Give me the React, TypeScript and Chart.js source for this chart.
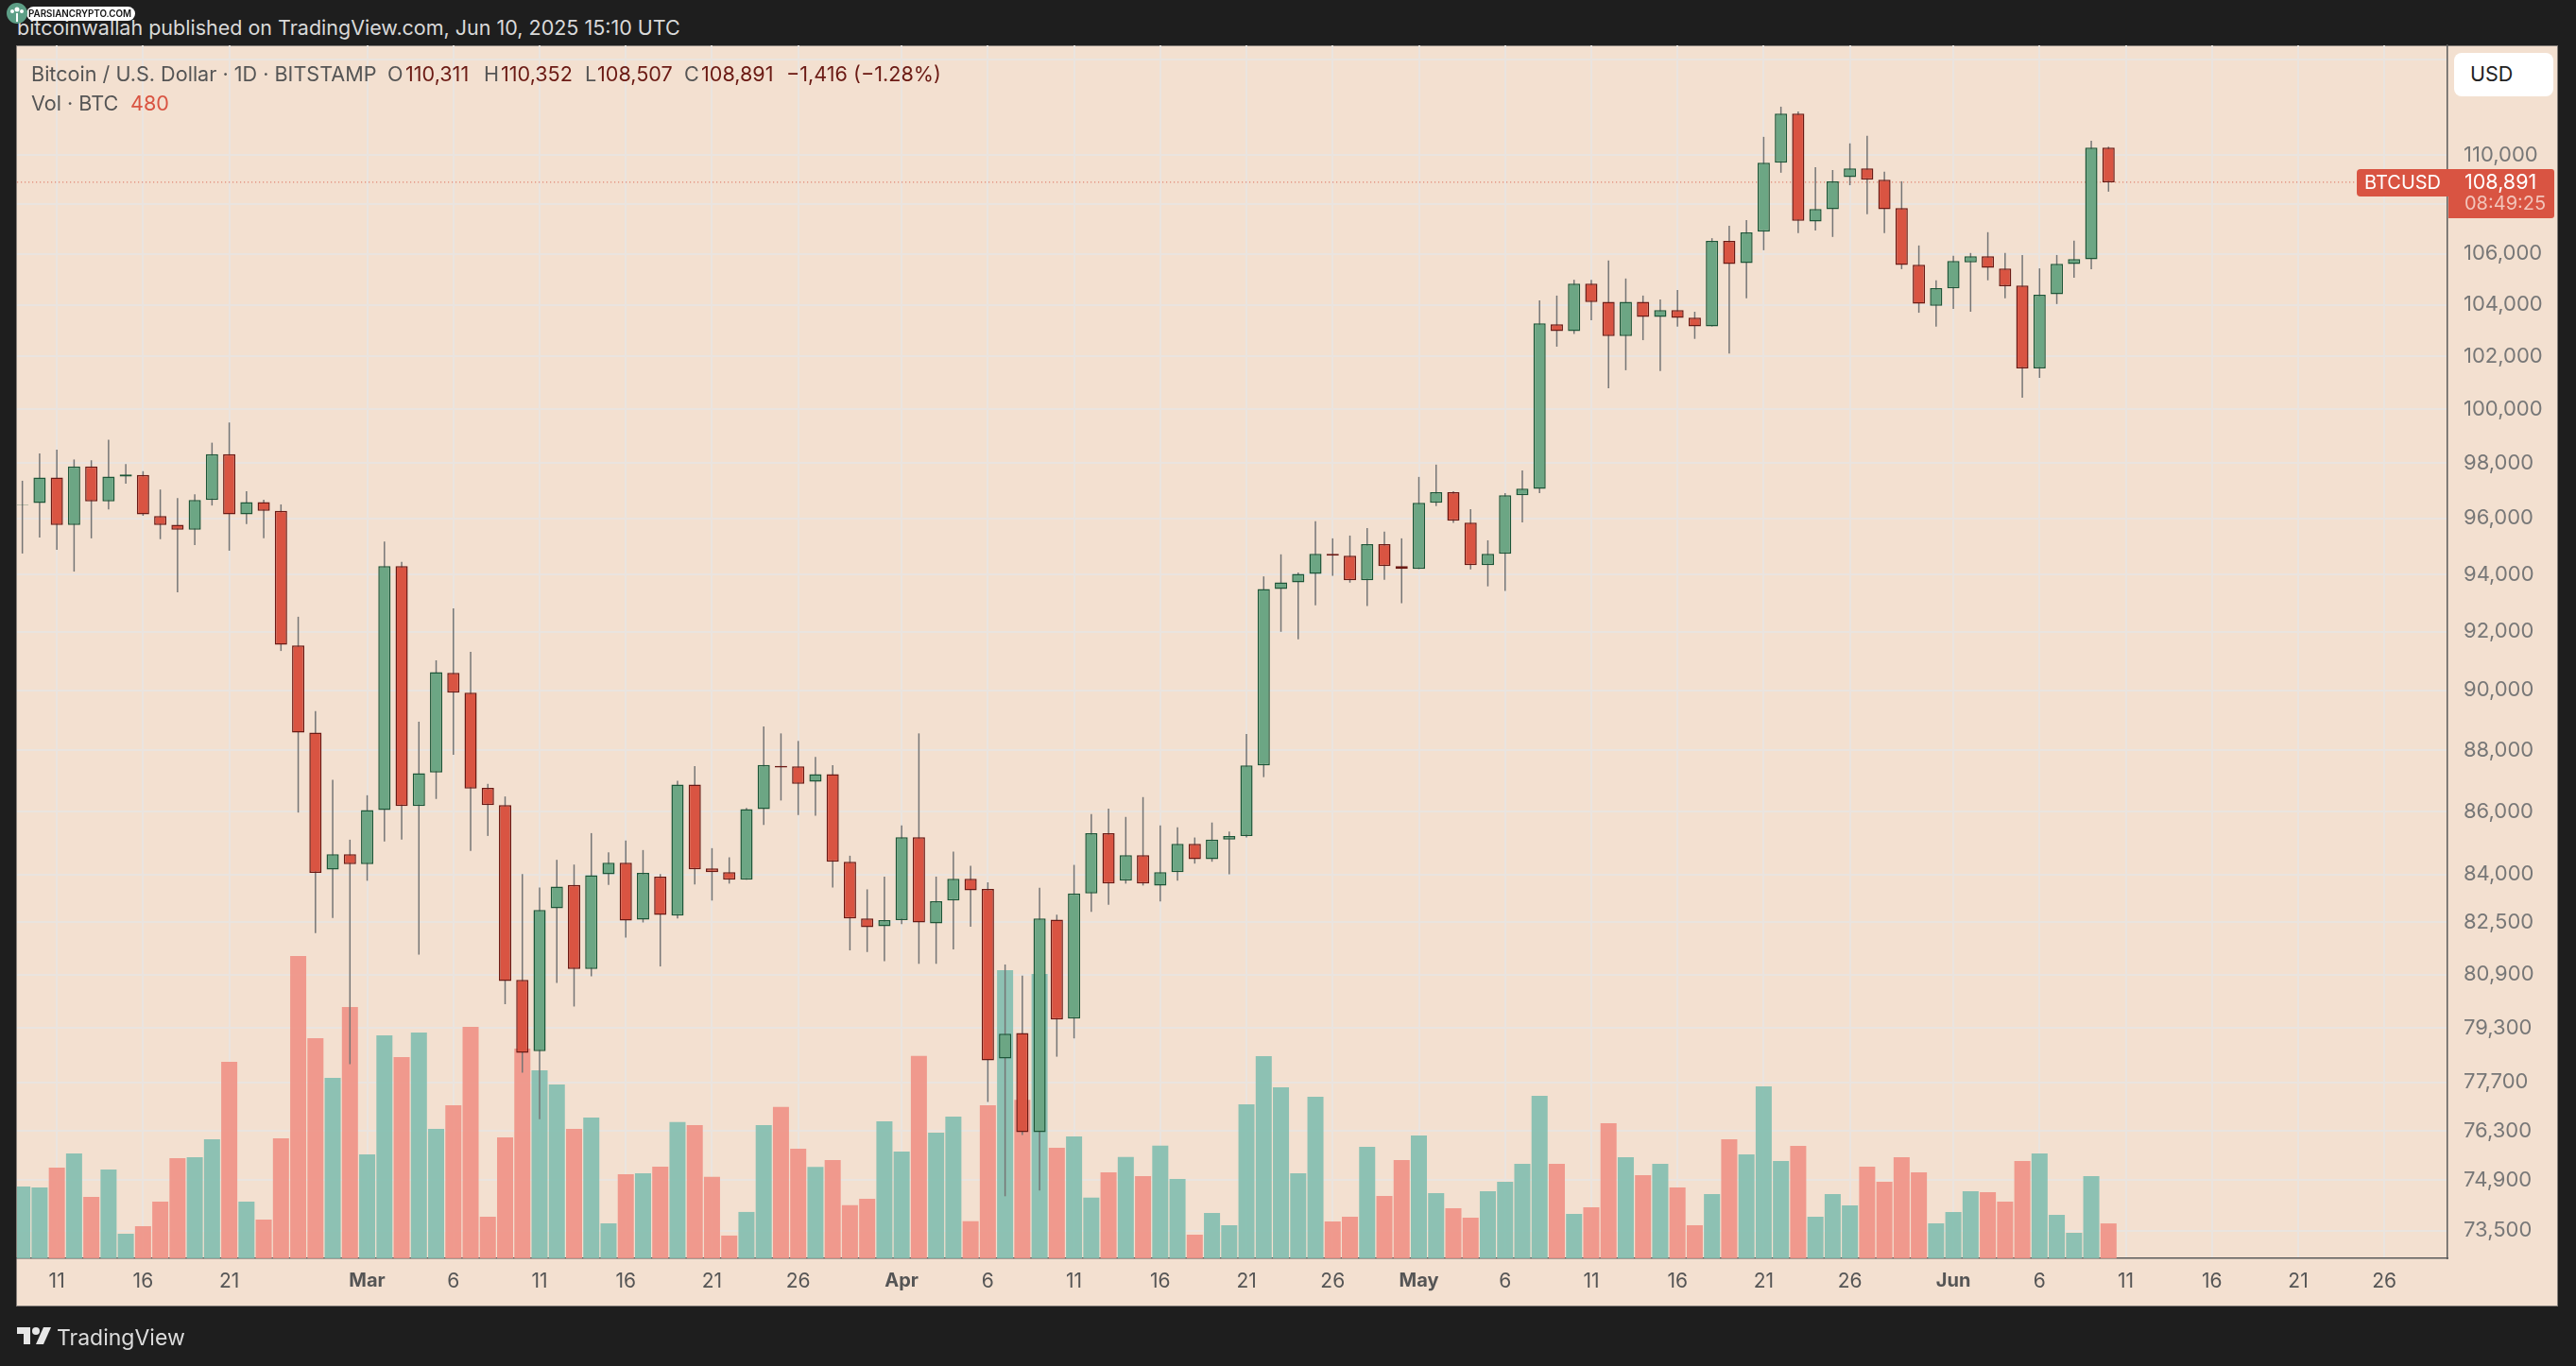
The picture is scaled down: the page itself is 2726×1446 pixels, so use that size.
import React, { useEffect, useRef } from "react";
import { Chart, registerables, ChartConfiguration } from "chart.js";

Chart.register(...registerables);

// day 0 is Feb 9 2025, one candle per day
const opens = [
  96480, 96550, 97480, 95760, 97880, 96610, 97510, 97570, 96080, 95770, 95590, 96660, 98340, 96140, 96580, 96270,
  91530, 88590, 84150, 84640, 84320, 86050, 94290, 86180, 87270, 90590, 89920, 86770, 86210, 80740, 78610, 82940,
  83670, 81070, 84000, 84370, 82590, 83930, 82710, 86880, 84190, 84070, 83830, 86080, 87490, 87470, 86970, 87220,
  84400, 82620, 82380, 82570, 85180, 82470, 83180, 83860, 83540, 78400, 79150, 76260, 82590, 79580, 83400, 85310,
  83800, 84610, 83650, 84070, 84970, 84480, 85100, 85220, 87500, 93490, 93720, 94020, 94730, 94660, 93790, 95070,
  94290, 94190, 96560, 96940, 95840, 94330, 94730, 96830, 97060, 103240, 102980, 104830, 104120, 102790, 104120,
  103530, 103790, 103500, 103160, 106520, 105640, 106890, 109690, 111730, 107300, 107790, 109100, 109460, 108990,
  107840, 105570, 103960, 104640, 105670, 105910, 105420, 104750, 101550, 104410, 105600, 105790, 110311,
];
const highs = [
  97360, 98360, 98500, 98140, 98110, 98870, 97970, 97710, 97040, 96730, 96870, 98760, 99510, 96980, 96670, 96500,
  92520, 89300, 87030, 85100, 86530, 95170, 94440, 88950, 91020, 92810, 91310, 86900, 86490, 84010, 83590, 84460,
  84310, 85310, 84700, 85070, 84770, 84010, 87000, 87480, 84830, 84540, 86120, 88790, 88560, 88310, 87780, 87510,
  84590, 83530, 83930, 85560, 88560, 83930, 84720, 84270, 83750, 81210, 80870, 83580, 82740, 84300, 85920, 86100,
  85830, 86470, 85560, 85500, 85170, 85650, 85360, 88540, 93930, 94710, 94070, 95890, 95280, 95380, 95650, 95520,
  95280, 97500, 97950, 96980, 96330, 95210, 96910, 97740, 104170, 104360, 104980, 104980, 105740, 105030, 104360,
  104210, 104580, 103730, 106630, 107130, 107360, 110760, 112020, 111820, 109510, 109390, 110490, 110800, 109320,
  108930, 106340, 104960, 105930, 106040, 106870, 106040, 105960, 105430, 105960, 106530, 110600, 110352,
];
const lows = [
  94740, 95310, 94870, 94100, 95280, 96320, 97250, 96090, 95250, 93370, 95040, 96460, 94840, 95790, 95280, 91340,
  85970, 82170, 82640, 78230, 83800, 85040, 85100, 81510, 86410, 87850, 84740, 85220, 80010, 77980, 76630, 80650,
  79940, 80850, 83670, 82030, 82500, 81150, 82620, 83680, 83180, 83710, 83830, 85570, 86360, 85890, 85870, 83590,
  81640, 81590, 81310, 82450, 81230, 81230, 81670, 82370, 77130, 74450, 76180, 74610, 78450, 78990, 82830, 83050,
  83710, 83650, 83150, 83800, 84340, 84400, 84000, 85170, 87120, 92000, 91740, 92920, 93950, 93710, 92890, 93810,
  92990, 94190, 96440, 95830, 94180, 93580, 93420, 95850, 96910, 102380, 102870, 103400, 100800, 101480, 102630,
  101450, 103150, 102680, 103160, 102120, 104250, 106150, 109280, 106830, 106940, 106680, 108770, 107590, 106830,
  105400, 103690, 103150, 103840, 103730, 104960, 104250, 100440, 101190, 104030, 105060, 105400, 108507,
];
const closes = [
  96500, 97480, 95760, 97880, 96610, 97510, 97590, 96140, 95760, 95590, 96660, 98340, 96140, 96580, 96270, 91550,
  88590, 84050, 84640, 84320, 86050, 94290, 86180, 87250, 90620, 89920, 86750, 86210, 80710, 78560, 82890, 83620,
  81070, 83970, 84370, 82560, 84050, 82730, 86880, 84160, 84070, 83830, 86080, 87520, 87430, 86900, 87220, 84400,
  82620, 82350, 82570, 85180, 82500, 83160, 83860, 83500, 78340, 79130, 76260, 82620, 79550, 83400, 85310, 83710,
  84610, 83710, 84070, 84970, 84480, 85100, 85220, 87500, 93490, 93720, 94020, 94730, 94660, 93790, 95070, 94290,
  94190, 96560, 96940, 95910, 94330, 94730, 96830, 97070, 103280, 102980, 104830, 104110, 102790, 104120, 103530,
  103790, 103490, 103160, 106520, 105600, 106860, 109690, 111730, 107330, 107800, 108930, 109460, 108990, 107790,
  105560, 104040, 104650, 105720, 105910, 105450, 104730, 101550, 104390, 105610, 105800, 110310, 108891,
];
const volumes = [
  988, 975, 1248, 1443, 845, 1222, 338, 442, 780, 1378, 1391, 1638, 2704, 780, 533, 1651, 4160, 3029, 2483, 3458,
  1430, 3068, 2769, 3107, 1781, 2106, 3185, 572, 1664, 2886, 2587, 2392, 1781, 1937, 481, 1157, 1170, 1261, 1875,
  1834, 1120, 313, 638, 1834, 2084, 1509, 1259, 1352, 731, 818, 1886, 1468, 2786, 1729, 1950, 511, 2107, 3964, 2182,
  3912, 1521, 1677, 836, 1184, 1393, 1132, 1550, 1091, 325, 624, 455, 2119, 2782, 2353, 1170, 2223, 507, 572, 1534,
  858, 1352, 1690, 897, 689, 559, 923, 1053, 1300, 2236, 1300, 611, 702, 1859, 1391, 1144, 1300, 975, 455, 884, 1638,
  1430, 2366, 1339, 1547, 572, 884, 728, 1261, 1053, 1391, 1183, 481, 637, 923, 910, 780, 1339, 1443, 598, 351, 1131,
  480,
];
const lastPrice = 108891;

const priceTicks = [
  114000, 110000, 108000, 106000, 104000, 102000, 100000, 98000, 96000, 94000, 92000, 90000, 88000, 86000, 84000,
  82500, 80900, 79300, 77700, 76300, 74900, 73500,
];
const hiddenPriceTicks = [114000, 108000];
const dayTicks = [
  2, 7, 12, 20, 25, 30, 35, 40, 45, 51, 56, 61, 66, 71, 76, 81, 86, 91, 96, 101, 106, 112, 117, 122, 127, 132, 137,
];
const dayLabels = [
  "11", "16", "21", "Mar", "6", "11", "16", "21", "26", "Apr", "6", "11", "16", "21", "26", "May", "6", "11", "16",
  "21", "26", "Jun", "6", "11", "16", "21", "26",
];
const months = ["Mar", "Apr", "May", "Jun"];

const UP = "#6ca684";
const UP_EDGE = "#1d5638";
const DOWN = "#d95442";
const DOWN_EDGE = "#6b1a14";
const VOL_UP = "rgba(130,190,175,0.9)";
const VOL_DOWN = "rgba(240,145,133,0.9)";
const GRID = "#eae4df";
const AXIS = "#5b5b5b";
const FONT = "Inter, 'Noto Sans', sans-serif";

const Text: React.FC<{ x: number; y: number; size: number; color: string; weight?: number; children: React.ReactNode }> = ({
  x,
  y,
  size,
  color,
  weight = 400,
  children,
}) => (
  <span
    style={{
      position: "absolute",
      left: x,
      top: y - size * 0.7,
      fontFamily: FONT,
      fontSize: size,
      lineHeight: `${size * 1.4}px`,
      color,
      fontWeight: weight,
      whiteSpace: "nowrap",
    }}
  >
    {children}
  </span>
);

const App: React.FC = () => {
  const chartRef = useRef<HTMLCanvasElement>(null);

  useEffect(() => {
    const ctx = chartRef.current?.getContext("2d");
    if (!ctx) return;

    const isUp = closes.map((c, i) => c >= opens[i]);
    const config: ChartConfiguration = {
      type: "bar",
      data: {
        datasets: [
          {
            type: "line",
            data: [
              { x: -0.3, y: lastPrice },
              { x: 135.3, y: lastPrice },
            ],
            borderColor: "#d95442",
            borderWidth: 1,
            borderDash: [1, 3],
            pointRadius: 0,
            order: 4,
          },
          {
            data: opens.map((o, i) => ({ x: i, y: [o, closes[i]] })),
            backgroundColor: isUp.map(u => (u ? UP : DOWN)),
            borderColor: isUp.map(u => (u ? UP_EDGE : DOWN_EDGE)),
            borderWidth: 1.5,
            borderSkipped: false,
            barThickness: 13,
            grouped: false,
            inflateAmount: 0,
            order: 1,
          },
          {
            data: lows.map((l, i) => ({ x: i, y: [l, highs[i]] })),
            backgroundColor: "#757575",
            barThickness: 1.5,
            grouped: false,
            inflateAmount: 0,
            order: 2,
          },
          {
            data: volumes.map((v, i) => ({ x: i, y: v })),
            yAxisID: "vol",
            backgroundColor: isUp.map(u => (u ? VOL_UP : VOL_DOWN)),
            barThickness: 17,
            grouped: false,
            inflateAmount: 0,
            order: 3,
          },
        ],
      } as any,
      options: {
        responsive: false,
        animation: false,
        devicePixelRatio: 1,
        events: [],
        layout: { padding: { left: 18, right: 19, top: 48, bottom: 63 } },
        plugins: { legend: { display: false }, tooltip: { enabled: false } },
        scales: {
          x: {
            type: "linear",
            min: -0.31,
            max: 140.66,
            offset: false,
            afterFit: axis => {
              axis.height = 51;
            },
            afterBuildTicks: axis => {
              axis.ticks = dayTicks.map(value => ({ value }));
            },
            grid: { color: GRID, lineWidth: 2, drawTicks: false, offset: false },
            border: { color: AXIS, width: 1.5 },
            ticks: {
              autoSkip: false,
              maxRotation: 0,
              padding: 12,
              color: "#555555",
              font: c => {
                const label = dayLabels[dayTicks.indexOf(c.tick?.value as number)];
                return { family: FONT, size: months.includes(label) ? 20 : 21, weight: months.includes(label) ? 700 : 400 };
              },
              callback: value => dayLabels[dayTicks.indexOf(value as number)],
            },
          },
          y: {
            type: "logarithmic",
            position: "right",
            min: 72738,
            max: 114626,
            afterFit: axis => {
              axis.width = 117;
            },
            afterBuildTicks: axis => {
              axis.ticks = priceTicks.map(value => ({ value }));
            },
            grid: { color: GRID, lineWidth: 2, drawTicks: false },
            border: { color: AXIS, width: 1.5 },
            ticks: {
              autoSkip: false,
              padding: 17,
              color: "#777777",
              font: { family: FONT, size: 22 },
              callback: value =>
                hiddenPriceTicks.includes(value as number) ? "" : Number(value).toLocaleString("en-US"),
            },
          },
          vol: { type: "linear", display: false, min: 0, max: 16692 },
        },
      },
    };

    const chart = new Chart(ctx, config);
    return () => chart.destroy();
  }, []);

  return (
    <div style={{ position: "fixed", left: 0, top: 0, width: 2726, height: 1446, background: "#1e1e1e", overflow: "hidden" }}>
      <Text x={18} y={29} size={21.5} color="#d9d9d9">
        bitcoinwallah published on TradingView.com, Jun 10, 2025 15:10 UTC
      </Text>

      <div
        style={{
          position: "absolute",
          left: 17,
          top: 48,
          width: 2690,
          height: 1335,
          background: "#f3e0d0",
          boxSizing: "border-box",
          border: "1.5px solid #857f7a",
        }}
      />
      <canvas ref={chartRef} width={2726} height={1446} style={{ position: "absolute", left: 0, top: 0 }} />

      <div style={{ position: "absolute", left: 28, top: 7, width: 115, height: 15, borderRadius: 8, background: "#fff" }} />
      <svg style={{ position: "absolute", left: 7, top: 3 }} width={22} height={22} viewBox="0 0 22 22">
        <circle cx="11" cy="11" r="11" fill="#5d9e86" />
        <path d="M10 20V11H12V20Z" fill="#fff" />
        <circle cx="11" cy="7" r="2.5" fill="#fff" />
        <circle cx="6" cy="9" r="2" fill="#fff" />
        <circle cx="16" cy="9" r="2" fill="#fff" />
      </svg>
      <Text x={30} y={15} size={9.8} color="#111" weight={600}>
        PARSIANCRYPTO.COM
      </Text>

      <Text x={33} y={78} size={21.6} color="#555">
        Bitcoin / U.S. Dollar · 1D · BITSTAMP
      </Text>
      <Text x={410} y={78} size={21.6} color="#555">O</Text>
      <Text x={429} y={78} size={21.6} color="#6b1a14">110,311</Text>
      <Text x={512} y={78} size={21.6} color="#555">H</Text>
      <Text x={530} y={78} size={21.6} color="#6b1a14">110,352</Text>
      <Text x={619} y={78} size={21.6} color="#555">L</Text>
      <Text x={632} y={78} size={21.6} color="#6b1a14">108,507</Text>
      <Text x={724} y={78} size={21.6} color="#555">C</Text>
      <Text x={742} y={78} size={21.6} color="#6b1a14">108,891</Text>
      <Text x={832} y={78} size={21.6} color="#6b1a14">−1,416 (−1.28%)</Text>
      <Text x={33} y={109} size={21.6} color="#555">Vol · BTC</Text>
      <Text x={138} y={109} size={21.6} color="#d95442">480</Text>

      <div style={{ position: "absolute", left: 2597, top: 56, width: 105, height: 46, borderRadius: 8, background: "#fff" }} />
      <Text x={2614} y={78} size={21.5} color="#222">USD</Text>

      <div style={{ position: "absolute", left: 2494, top: 179, width: 97, height: 29, borderRadius: "4px 0 0 4px", background: "#d95442" }} />
      <Text x={2502} y={193} size={20} color="#fff">BTCUSD</Text>
      <div style={{ position: "absolute", left: 2591, top: 179, width: 112, height: 52, borderRadius: "0 3px 3px 0", background: "#d95442" }} />
      <Text x={2608} y={192} size={21.5} color="#fff">108,891</Text>
      <Text x={2608} y={215} size={20} color="#f2c4ba">08:49:25</Text>

      <svg style={{ position: "absolute", left: 18, top: 1405 }} width={36} height={18} viewBox="0 0 36 18">
        <path d="M0 0H14V18H7V7H0Z" fill="#e6e6e6" />
        <circle cx="20" cy="4" r="4" fill="#e6e6e6" />
        <path d="M28 0H36L28 18H20Z" fill="#e6e6e6" />
      </svg>
      <Text x={60} y={1416} size={23} color="#dcdcdc">TradingView</Text>
    </div>
  );
};

export default App;
